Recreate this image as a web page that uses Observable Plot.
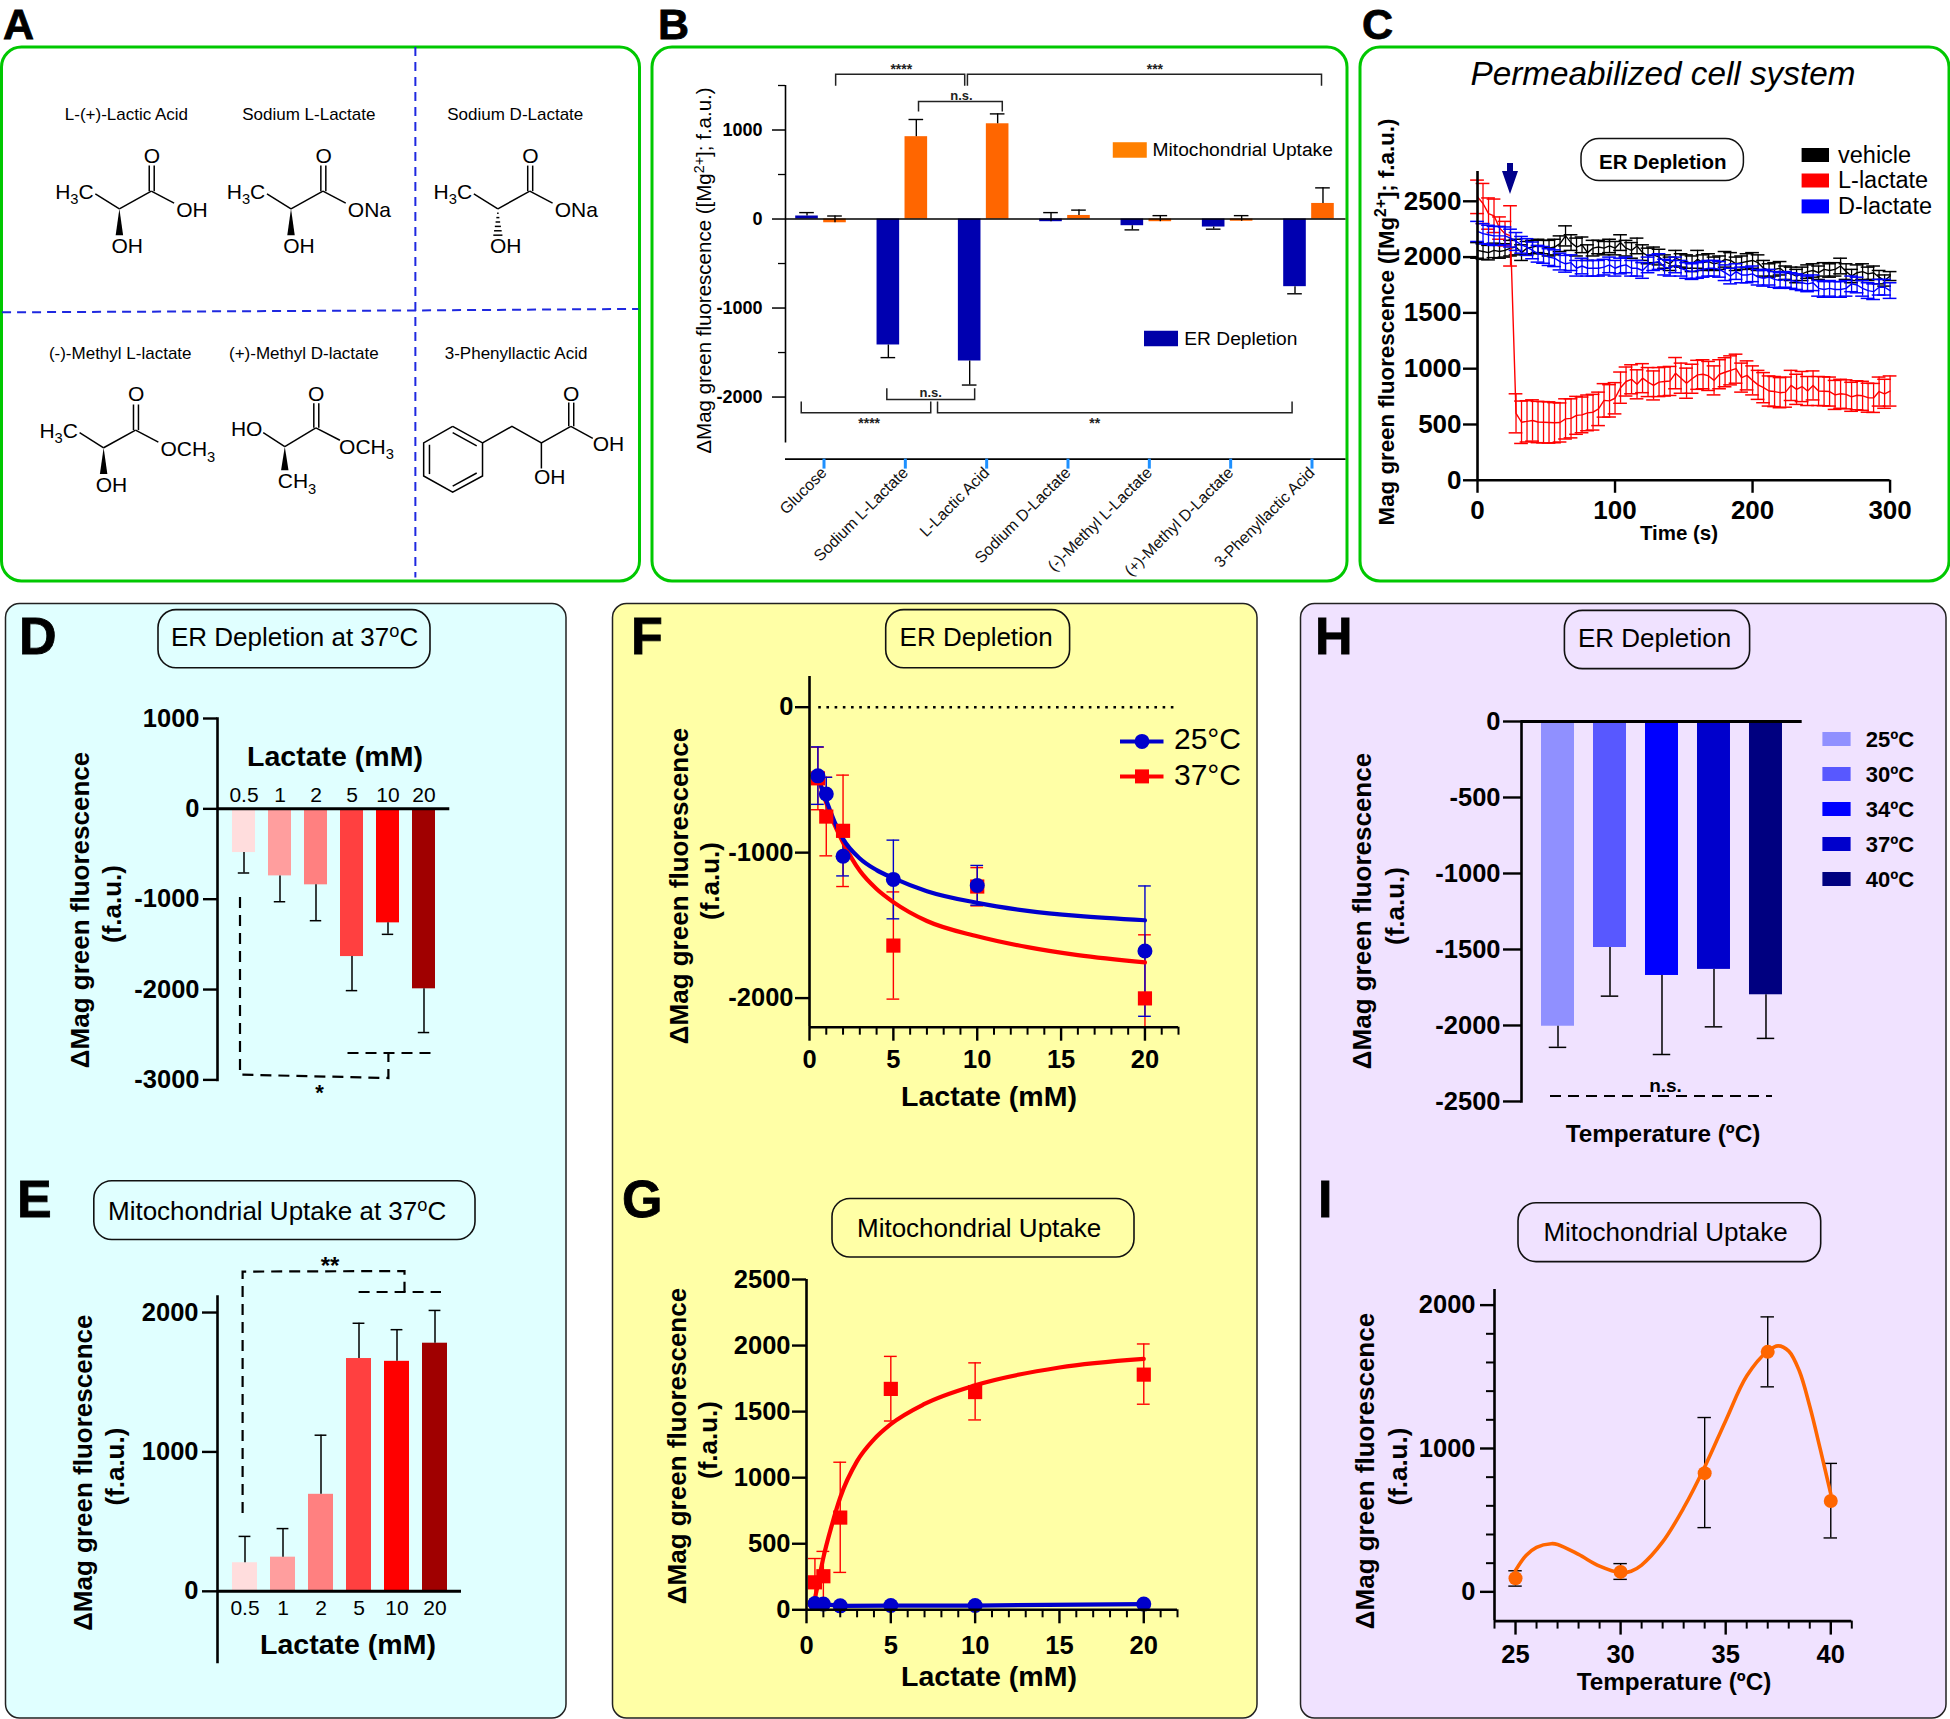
<!DOCTYPE html>
<html><head><meta charset="utf-8">
<style>
html,body{margin:0;padding:0;background:#fff;overflow:hidden}
#page{position:relative;width:1950px;height:1719px;overflow:hidden;font-family:"Liberation Sans",Arial,sans-serif}
#page svg{font-family:"Liberation Sans",Arial,sans-serif}
</style>
<script src="https://cdn.jsdelivr.net/npm/d3@7"></script>
<script src="https://cdn.jsdelivr.net/npm/@observablehq/plot@0.6"></script>
</head><body><div id="page"></div>
<script>
// ---------- data ----------
const bCompounds = ["Glucose","Sodium L-Lactate","L-Lactic Acid","Sodium D-Lactate","(-)-Methyl L-Lactate","(+)-Methyl D-Lactate","3-Phenyllactic Acid"];
const bER      = [34,-1415,-1595,-30,-75,-90,-760];
const bERErr   = [72,-1557,-1865,72,-122,-114,-840];
const bMito    = [-42,925,1070,40,-30,-25,175];
const bMitoErr = [34,1118,1181,100,38,38,350];

const cTime = d3.range(0,301,4);
const cVehicle = [2060,2050,2040,2060,2050,2060,2080,2090,2040,2080,2090,2100,2090,2080,2090,2120,2190,2130,2090,2110,2040,2080,2090,2080,2100,2080,2130,2080,2060,2100,2040,2010,2020,2000,1960,1940,1990,1970,1960,1940,1980,1950,1960,1940,1950,1980,1970,1940,1950,1960,1970,1950,1900,1880,1890,1900,1860,1850,1830,1850,1870,1880,1860,1890,1880,1890,1920,1870,1830,1860,1870,1850,1860,1820,1790,1830];
const cVehicleErr = [70,70,65,65,60,60,70,70,70,60,60,60,60,70,70,70,90,70,80,70,70,70,60,60,60,60,70,70,70,70,70,70,70,70,60,60,70,60,60,70,80,70,70,60,60,70,70,60,60,70,70,70,70,60,60,60,60,60,60,60,60,60,60,60,60,60,70,70,60,70,70,60,60,60,50,40];
const cLactateL = [2540,2480,2390,2370,2260,2210,2190,600,520,528,536,522,520,518,516,518,550,555,582,586,604,610,640,716,712,735,830,885,905,860,915,880,850,880,885,890,960,915,870,910,945,950,935,895,950,968,985,1000,920,940,895,855,830,800,795,785,790,850,815,840,800,850,800,798,795,765,775,770,748,762,757,740,738,795,775,800];
const cLactateLErr = [150,180,140,150,100,110,270,175,190,185,185,185,185,185,180,175,180,175,170,160,160,160,150,150,145,140,140,130,130,130,130,130,130,130,130,130,140,135,135,130,130,130,130,130,130,130,130,130,130,130,130,130,135,135,135,135,135,135,135,135,130,130,130,130,130,130,130,130,130,130,130,130,130,130,130,135];
const cLactateD = [2230,2210,2200,2190,2190,2190,2170,2140,2110,2090,2060,2030,2020,2000,1990,1960,1940,1950,1900,1920,1900,1900,1900,1910,1930,1900,1920,1930,1900,1900,1880,1930,1950,1960,1910,1900,1930,1900,1880,1870,1880,1890,1900,1900,1890,1860,1830,1870,1840,1840,1850,1820,1810,1820,1800,1790,1800,1790,1780,1770,1760,1770,1720,1710,1720,1710,1710,1720,1760,1750,1720,1700,1690,1730,1730,1700];
const cLactateDErr = [90,90,85,85,85,80,80,80,75,75,75,75,75,75,75,75,75,70,70,70,70,70,70,70,70,70,70,70,70,70,70,70,70,70,70,70,70,70,70,70,70,70,70,70,70,70,70,70,70,70,70,70,70,70,70,70,70,70,70,70,70,70,70,70,70,70,70,70,70,70,70,70,70,70,70,70];

const lactateCats = ["0.5","1","2","5","10","20"];
const redShades   = ["#FFDDDD","#FF9E9E","#FF8080","#FF4040","#FF0000","#A00000"];
const dValues = [-484,-742,-841,-1635,-1262,-1992];
const dErrEnd = [-710,-1028,-1238,-2012,-1389,-2476];
const eValues = [205,245,696,1670,1650,1780];
const eErrEnd = [394,450,1120,1923,1877,2015];

const lactateMM = [0.5,1,2,5,10,20];
const f25    = [-472,-597,-1025,-1184,-1226,-1676];
const f25Top = [-273,-482,-889,-914,-1088,-1229];
const f25Bot = [-668,-712,-1160,-1455,-1361,-2125];
const f37    = [-489,-752,-850,-1639,-1233,-2002];
const f37Top = [-275,-482,-467,-1270,-1103,-1565];
const f37Bot = [-705,-1022,-1233,-2007,-1366,-2200];
const fCurveX  = [0.5,1,1.5,2,3,4,5,7,10,13,16,20];
const fCurve25 = [-480,-640,-790,-905,-1040,-1120,-1175,-1265,-1345,-1400,-1435,-1465];
const fCurve37 = [-470,-660,-810,-930,-1125,-1250,-1340,-1470,-1575,-1650,-1705,-1755];

const g37    = [208,254,698,1672,1648,1780];
const g37Top = [388,442,1117,1918,1869,2012];
const g37Bot = [28,60,283,1429,1437,1556];
const g25    = [48,43,30,32,32,43];
const gCurveX  = [0.45,0.7,1,1.5,2,3,4,5,7,10,15,20];
const gCurve37 = [54,210,395,640,850,1125,1290,1405,1558,1699,1834,1899];

const tempLabels = ["25ºC","30ºC","34ºC","37ºC","40ºC"];
const blueShades = ["#9090FF","#5858FF","#0000FF","#0000CC","#000080"];
const hValues = [-2005,-1487,-1671,-1631,-1798];
const hErrEnd = [-2144,-1807,-2191,-2009,-2085];

const temps = [25,30,34,37,40];
const iValues = [95,139,828,1674,634];
const iTop = [147,197,1216,1918,896];
const iBot = [40,87,448,1430,376];
const iCurveX = [25,25.5,26,26.7,27,28,29,30,30.5,31,32,33,34,35,36,37,37.5,38,38.5,39,39.5,40];
const iCurveY = [150,254,311,336,331,261,179,134,144,187,348,585,871,1194,1505,1679,1716,1679,1542,1294,995,684];

// ---------- helpers ----------
const page = d3.select("#page");
const INK = "#000";
const bg = page.append("svg").attr("width",1950).attr("height",1719).style("position","absolute").style("left",0).style("top",0);

function rrect(x1,y1,x2,y2,r,fill,stroke,sw){
  bg.append("rect").attr("x",x1).attr("y",y1).attr("width",x2-x1).attr("height",y2-y1).attr("rx",r)
    .attr("fill",fill).attr("stroke",stroke).attr("stroke-width",sw);
}
function txt(x,y,parts,o={}){
  const {size=20,weight="normal",style="normal",anchor="start",rotate=null,fill=INK}=o;
  const t=bg.append("text").attr("x",x).attr("y",y).attr("font-size",size).attr("font-weight",weight)
    .attr("font-style",style).attr("text-anchor",anchor).attr("fill",fill);
  if(rotate!==null) t.attr("transform",`rotate(${rotate} ${x} ${y})`);
  let pending=0;
  (Array.isArray(parts)?parts:[parts]).forEach(p=>{
    const s=t.append("tspan");
    if(typeof p==="string"){ s.text(p); if(pending) s.attr("dy",pending*size); pending=0; }
    else{ s.attr("font-size",size*p.scale).attr("dy",(p.dy+pending)*size).text(p.t); pending=-p.dy; }
  });
  return t;
}
const sup = s=>({t:s,dy:-0.36,scale:0.7});
const sub = s=>({t:s,dy:0.26,scale:0.7});
function poly(pts,o={}){
  const {stroke=INK,sw=1.5,dash=null}=o;
  const p=bg.append("path").attr("d","M"+pts.map(q=>q.join(",")).join("L")).attr("fill","none").attr("stroke",stroke).attr("stroke-width",sw);
  if(dash) p.attr("stroke-dasharray",dash);
}
function pill(x1,y1,x2,y2,parts,x,y,o={}){
  rrect(x1,y1,x2,y2,18,"none","#111",1.6);
  txt(x,y,parts,{size:26,...o});
}
function chart(inner,opts){
  const [l,t,r,b]=inner;
  const svg=Plot.plot({width:r-l,height:b-t,marginLeft:0,marginRight:0,marginTop:0,marginBottom:0,
    style:{position:"absolute",left:l+"px",top:t+"px",overflow:"visible",background:"transparent",fontFamily:'"Liberation Sans",Arial,sans-serif',color:"#000"},
    ...opts});
  page.node().appendChild(svg);
}
const fmt = d=>String(d);
const yAx = (ticks,o={}) => Plot.axisY({ticks,tickFormat:fmt,label:null,fontSize:25.5,fontWeight:"bold",tickSize:14,tickPadding:4,strokeWidth:2.4,...o});
const yMinor = (ticks,o={}) => Plot.axisY({ticks,label:null,fill:"none",tickSize:8,strokeWidth:2,...o});
const xAx = (ticks,o={}) => Plot.axisX({ticks,tickFormat:fmt,label:null,fontSize:25.5,fontWeight:"bold",tickSize:14,tickPadding:9,strokeWidth:2.4,...o});
const xMinor = (ticks,o={}) => Plot.axisX({ticks,label:null,fill:"none",tickSize:8,strokeWidth:2,...o});
const YT = "ΔMag green fluorescence", FAU = "(f.a.u.)";
function yTitle(x1,x2,yc1,yc2){
  txt(x1,yc1,YT,{size:26,weight:"bold",anchor:"middle",rotate:-90});
  txt(x2,yc2,FAU,{size:26,weight:"bold",anchor:"middle",rotate:-90});
}

// ---------- panel backgrounds ----------
rrect(1.5,47,639.5,581,20,"#fff","#00C800",3);
rrect(652,47,1347,581,20,"#fff","#00C800",3);
rrect(1360,47,1949,581,20,"#fff","#00C800",3);
rrect(5.5,603.5,566,1718,14,"#E0FFFF","#222",1.5);
rrect(612.5,603.5,1257,1718,14,"#FFFFA6","#222",1.5);
rrect(1300.5,603.5,1946,1718,14,"#F0E2FF","#222",1.5);

[["A",3,39.2,43],["B",658,39.2,43],["C",1362,39.2,43],["D",19,653.6,52],["E",17,1217,52],
 ["F",631,653.6,52],["G",622,1217,52],["H",1315,653.6,52],["I",1318,1217,52]]
 .forEach(([s,x,y,size])=>txt(x,y,s,{size,weight:"bold"}).attr("stroke",INK).attr("stroke-width",0.8));

// ---------- Panel A: structures ----------
const ax=x=>x*650/1568, ay=y=>y*590/1568;
const P=(x,y)=>[ax(x),ay(y)];
poly([P(1002,125),P(1002,1535)],{stroke:"#1E28E0",sw:2,dash:"9 6"});
poly([P(5,830),P(1002,825),P(1540,821)],{stroke:"#1E28E0",sw:2,dash:"9 6"});
[["L-(+)-Lactic Acid",305,318],["Sodium L-Lactate",745,318],["Sodium D-Lactate",1243,318],
 ["(-)-Methyl L-lactate",290,955],["(+)-Methyl D-lactate",733,955],["3-Phenyllactic Acid",1245,955]]
 .forEach(([s,x,y])=>txt(ax(x),ay(y),s,{size:17,anchor:"middle"}));
const atom=(x,y,parts)=>txt(ax(x),ay(y),parts,{size:21});
const bond=(a,b,c,d)=>poly([P(a,b),P(c,d)],{sw:1.5});
function wedge(x1,y1,x2,y2,w){
  bg.append("path").attr("fill",INK).attr("d","M"+P(x1,y1).join(",")+"L"+P(x2-w,y2).join(",")+"L"+P(x2+w,y2).join(",")+"Z");
}
function hash(x,y1,y2,w){
  for(let i=1;i<=6;i++){const yy=y1+(y2-y1)*i/6,ww=w*i/6;bond(x-ww,yy,x+ww,yy);}
}
function lact(dx,dy,right,stereo){
  atom(133+dx,528+dy,["H",sub("3"),"C"]);
  bond(230+dx,515+dy,288+dx,555+dy); bond(288+dx,555+dy,365+dx,508+dy);
  bond(360+dx,508+dy,360+dx,440+dy); bond(372+dx,508+dy,372+dx,440+dy);
  bond(365+dx,508+dy,420+dx,540+dy);
  atom(347+dx,432+dy,"O"); atom(425+dx,577+dy,right); atom(269+dx,673+dy,"OH");
  if(stereo==="wedge") wedge(288+dx,555+dy,288+dx,625+dy,9); else hash(288+dx,555+dy,625+dy,11);
}
lact(0,0,"OH","wedge");
lact(414,0,"ONa","wedge");
lact(913,0,"ONa","hash");
lact(-38,635,["OCH",sub("3")],"wedge");
// (+)-Methyl D-lactate
atom(557,1158,"HO"); atom(743,1067,"O"); atom(818,1206,["OCH",sub("3")]); atom(670,1298,["CH",sub("3")]);
bond(635,1150,687,1187); bond(687,1187,762,1137); bond(757,1137,757,1072); bond(769,1137,769,1072); bond(762,1137,820,1170);
wedge(687,1187,687,1250,9);
// 3-Phenyllactic acid
poly([P(1092,1133),P(1164,1177),P(1164,1265),P(1092,1308),P(1022,1265),P(1022,1177),P(1092,1133)]);
bond(1092,1150,1150,1185); bond(1150,1257,1092,1292); bond(1036,1182,1036,1260);
poly([P(1164,1177),P(1235,1133),P(1306,1177),P(1377,1133)]);
bond(1372,1133,1372,1070); bond(1384,1133,1384,1070); bond(1377,1133,1430,1165); bond(1306,1177,1306,1245);
atom(1358,1065,"O"); atom(1430,1198,"OH"); atom(1288,1285,"OH");

// ---------- Panel B ----------
const bx=x=>650+x*710/1568, by=y=>y*590/1568;
const Q=(x,y)=>[bx(x),by(y)];
const BR=(pts,sw=1.5)=>poly(pts.map(p=>Q(...p)),{sw,stroke:"#222"});
BR([[410,228],[410,197],[695,197],[695,228]]);
BR([[701,228],[701,197],[1483,197],[1483,228]]);
BR([[593,296],[593,270],[778,270],[778,296]]);
BR([[523,1032],[523,1062],[717,1062],[717,1032]]);
BR([[334,1067],[334,1097],[620,1097],[620,1067]]);
BR([[635,1067],[635,1097],[1418,1097],[1418,1067]]);
[["****",555,196],["***",1115,196],["n.s.",688,265],["n.s.",620,1055],["****",484,1137],["**",982,1137]]
 .forEach(([s,x,y])=>txt(bx(x),by(y),s,{size:s==="n.s."?13:14,weight:"bold",anchor:"middle",fill:"#222"}));
bg.append("rect").attr("x",bx(1022)).attr("y",by(378)).attr("width",34).attr("height",15.5).attr("fill","#FF8000");
txt(bx(1110),by(415),"Mitochondrial Uptake",{size:19.2});
bg.append("rect").attr("x",bx(1091)).attr("y",by(879)).attr("width",34).attr("height",15.5).attr("fill","#0000A8");
txt(bx(1180),by(917),"ER Depletion",{size:19.2});
txt(711,270.5,[YT+" ([Mg",sup("2+"),"]; f.a.u.)"],{size:20.5,anchor:"middle",rotate:-90});

const bData = bCompounds.map((c,i)=>({i,c,er:bER[i],erE:bERErr[i],mi:bMito[i],miE:bMitoErr[i]}));
const H=0.139, OFF=0.172, CAP=0.09;
chart([784.5,84.7,1345,458.3],{
  x:{domain:[-0.4365,6.455],axis:null},
  y:{domain:[-2697,1500],axis:null},
  marks:[
    Plot.rect(bData,{x1:d=>d.i-OFF-H,x2:d=>d.i-OFF+H,y1:0,y2:"er",fill:"#0000B0"}),
    Plot.rect(bData,{x1:d=>d.i+OFF-H,x2:d=>d.i+OFF+H,y1:0,y2:"mi",fill:"#FF6600"}),
    Plot.ruleX(bData,{x:d=>d.i-OFF,y1:"er",y2:"erE",strokeWidth:1.4}),
    Plot.ruleY(bData,{y:"erE",x1:d=>d.i-OFF-CAP,x2:d=>d.i-OFF+CAP,strokeWidth:1.4}),
    Plot.ruleX(bData,{x:d=>d.i+OFF,y1:"mi",y2:"miE",strokeWidth:1.4}),
    Plot.ruleY(bData,{y:"miE",x1:d=>d.i+OFF-CAP,x2:d=>d.i+OFF+CAP,strokeWidth:1.4}),
    Plot.ruleY([0],{strokeWidth:1.6}),
    Plot.ruleY([-2697],{strokeWidth:1.6}),
    Plot.ruleX([-0.4365],{y1:1500,y2:-2515,strokeWidth:1.6}),
    yAx([-2000,-1000,0,1000],{fontSize:18,tickSize:13,tickPadding:10,strokeWidth:1.5}),
    yMinor([-1500,-500,500,1500],{tickSize:7,strokeWidth:1.3}),
    Plot.axisX({ticks:d3.range(7),tickFormat:i=>bCompounds[i],label:null,stroke:"#1E90FF",strokeWidth:3,tickSize:10,tickPadding:1,tickRotate:-45,fontSize:16,fill:"#111",dx:3})
  ]
});

// ---------- Panel C ----------
txt(1470.5,84.7,"Permeabilized cell system",{size:33.3,style:"italic"});
rrect(1581,138.5,1743.4,180.6,18,"none","#111",1.5);
txt(1599,169,"ER Depletion",{size:20.5,weight:"bold"});
[["vehicle","#000",148,162.6],["L-lactate","#FF0000",173.5,188],["D-lactate","#0000FF",199.4,213.8]].forEach(([s,c,y,b])=>{
  bg.append("rect").attr("x",1801.6).attr("y",y).attr("width",27.4).attr("height",14).attr("fill",c);
  txt(1838,b,s,{size:23.5});
});
txt(1394,322,["Mag green fluorescence ([Mg",sup("2+"),"]; f.a.u.)"],{size:22.3,weight:"bold",anchor:"middle",rotate:-90});
txt(1679,540,"Time (s)",{size:20.5,weight:"bold",anchor:"middle"});
bg.append("path").attr("d","M1507,163h6v8h5l-8,23l-8,-23h5z").attr("fill","#00008B");
const series = (ys,es)=>cTime.map((t,i)=>({t,v:ys[i],lo:ys[i]-es[i],hi:ys[i]+es[i]}));
const cMarks = (d,col)=>[
  Plot.ruleX(d,{x:"t",y1:"lo",y2:"hi",stroke:col,strokeWidth:1.3}),
  Plot.ruleY(d,{y:"hi",x1:e=>e.t-5,x2:e=>e.t+5,stroke:col,strokeWidth:1.5}),
  Plot.ruleY(d,{y:"lo",x1:e=>e.t-5,x2:e=>e.t+5,stroke:col,strokeWidth:1.5}),
  Plot.line(d,{x:"t",y:"v",stroke:col,strokeWidth:1.4})
];
chart([1477,171,1889.6,479.8],{
  x:{domain:[0,300],axis:null},
  y:{domain:[0,2767],axis:null},
  marks:[
    ...cMarks(series(cVehicle,cVehicleErr),"#000"),
    ...cMarks(series(cLactateL,cLactateLErr),"#FF0000"),
    ...cMarks(series(cLactateD,cLactateDErr),"#0000FF"),
    Plot.ruleX([0],{strokeWidth:2.6}),
    Plot.ruleY([0],{strokeWidth:2.6}),
    yAx([0,500,1000,1500,2000,2500],{fontSize:26,tickSize:14,tickPadding:2}),
    xAx([0,100,200,300],{fontSize:26,tickSize:13,tickPadding:7})
  ]
});

// ---------- Panels D, E ----------
pill(158,609.6,430,667.8,["ER Depletion at 37",sup("o"),"C"],171,646.4);
pill(93.8,1180.7,475,1239.5,["Mitochondrial Uptake at 37",sup("o"),"C"],108,1220);
yTitle(88.8,120.5,910,904);
yTitle(92,124,1472.7,1466.6);
txt(335,765.7,"Lactate (mM)",{size:28.5,weight:"bold",anchor:"middle"});
txt(348,1653.8,"Lactate (mM)",{size:28.5,weight:"bold",anchor:"middle"});
const DASH={sw:2.2,dash:"11 7"};
poly([[240,897],[240,1074.6],[388.4,1078],[388.4,1053]],DASH);
poly([[347.5,1053],[430.5,1053]],DASH);
txt(319.6,1100,"*",{size:22,weight:"bold",anchor:"middle"});
poly([[242.6,1513],[242.6,1271.6],[404.5,1271],[404.5,1292]],DASH);
poly([[358.6,1292],[441,1292]],DASH);
txt(330,1274,"**",{size:24,weight:"bold",anchor:"middle"});

function barPanel(inner,cats,colors,vals,ends,yDomain,ticks,padding,capPx,extra,yOpts={}){
  const data=cats.map((c,i)=>({c,v:vals[i],e:ends[i]}));
  const w=inner[2]-inner[0], step=w/(cats.length+padding), inset=(step*(1-padding))/2-capPx;
  chart(inner,{
    x:{domain:cats,axis:null,padding},
    y:{domain:yDomain,axis:null},
    color:{domain:cats,range:colors},
    marks:[
      Plot.barY(data,{x:"c",y:"v",fill:"c"}),
      Plot.ruleX(data,{x:"c",y1:"v",y2:"e",strokeWidth:1.5}),
      Plot.tickY(data,{x:"c",y:"e",strokeWidth:1.5,insetLeft:inset,insetRight:inset}),
      Plot.ruleY([0],{strokeWidth:3}),
      Plot.frame({anchor:"left",strokeWidth:2.6}),
      yAx(ticks,yOpts),
      ...extra
    ]
  });
}
barPanel([217.4,717.8,449.7,1079.2],lactateCats,redShades,dValues,dErrEnd,[-3000,1000],[-3000,-2000,-1000,0,1000],0.355,6,
  [Plot.text(lactateCats,{x:d=>d,y:()=>0,text:d=>d,dy:-14,fontSize:21})]);
barPanel([217,1295.5,461,1661],lactateCats,redShades,eValues,eErrEnd,[-507,2115],[0,1000,2000],0.345,6,
  [Plot.text(lactateCats,{x:d=>d,y:()=>0,text:d=>d,dy:17,fontSize:21})],{tickSize:15});

// ---------- Panels F, G ----------
pill(885.7,609.6,1069.6,667.8,"ER Depletion",899.6,646.4);
pill(832,1198.5,1134,1257,"Mitochondrial Uptake",857,1236.6);
yTitle(688,718.6,886,881);
yTitle(686,717,1446,1440);
txt(989,1106,"Lactate (mM)",{size:28.5,weight:"bold",anchor:"middle"});
txt(989,1686,"Lactate (mM)",{size:28.5,weight:"bold",anchor:"middle"});
poly([[1120,741.4],[1163.5,741.4]],{stroke:"#0000CC",sw:4});
bg.append("circle").attr("cx",1142).attr("cy",741.4).attr("r",7.5).attr("fill","#0000CC");
txt(1174,749,"25°C",{size:30});
poly([[1120,776.4],[1163.5,776.4]],{stroke:"#FF0000",sw:4});
bg.append("rect").attr("x",1135).attr("y",769.4).attr("width",14).attr("height",14).attr("fill","#FF0000");
txt(1174,784.6,"37°C",{size:30});

const pts=(ys,tops,bots,xs=lactateMM)=>xs.map((x,i)=>({x,y:ys[i],t:tops?tops[i]:null,b:bots?bots[i]:null}));
const curve=(xs,ys)=>xs.map((x,i)=>({x,y:ys[i]}));
const errMarks=(d,col,cap=0.38)=>[
  Plot.ruleX(d,{x:"x",y1:"b",y2:"t",stroke:col,strokeWidth:1.4}),
  Plot.ruleY(d,{y:"t",x1:e=>e.x-cap,x2:e=>e.x+cap,stroke:col,strokeWidth:1.4}),
  Plot.ruleY(d,{y:"b",x1:e=>e.x-cap,x2:e=>e.x+cap,stroke:col,strokeWidth:1.4})
];
const f25d=pts(f25,f25Top,f25Bot), f37d=pts(f37,f37Top,f37Bot);
const majorX=[0,5,10,15,20], minorX=d3.range(0,23).filter(v=>v%5);
chart([809,675.7,1178,1026.4],{
  x:{domain:[0,22],axis:null},
  y:{domain:[-2200,211],axis:null},
  marks:[
    Plot.ruleY([0],{x1:0.55,x2:22,strokeWidth:2.6,strokeDasharray:"2.6 5.6"}),
    ...errMarks(f37d,"#FF0000"),
    ...errMarks(f25d,"#0000CC"),
    Plot.line(curve(fCurveX,fCurve37),{x:"x",y:"y",stroke:"#FF0000",strokeWidth:4.2,curve:"monotone-x"}),
    Plot.line(curve(fCurveX,fCurve25),{x:"x",y:"y",stroke:"#0000CC",strokeWidth:4.2,curve:"monotone-x"}),
    Plot.dot(f37d,{x:"x",y:"y",symbol:"square",r:8,fill:"#FF0000"}),
    Plot.dot(f25d,{x:"x",y:"y",symbol:"circle",r:7.5,fill:"#0000CC"}),
    Plot.ruleX([0],{strokeWidth:2.6}),
    Plot.ruleY([-2200],{strokeWidth:2.6}),
    yAx([-2000,-1000,0],{tickPadding:2}),
    xAx(majorX),
    xMinor(minorX)
  ]
});
const g37d=pts(g37,g37Top,g37Bot), g25d=pts(g25);
chart([806,1278.7,1177,1609],{
  x:{domain:[0,22],axis:null},
  y:{domain:[0,2500],axis:null},
  marks:[
    ...errMarks(g37d,"#FF0000"),
    Plot.line(curve(gCurveX,gCurve37),{x:"x",y:"y",stroke:"#FF0000",strokeWidth:4.2,curve:"monotone-x"}),
    Plot.dot(g37d,{x:"x",y:"y",symbol:"square",r:8,fill:"#FF0000"}),
    Plot.line(g25d,{x:"x",y:"y",stroke:"#0000CC",strokeWidth:4.2}),
    Plot.dot(g25d,{x:"x",y:"y",symbol:"circle",r:7.5,fill:"#0000CC"}),
    Plot.ruleX([0],{strokeWidth:2.6}),
    Plot.ruleY([0],{strokeWidth:2.6}),
    yAx([0,500,1000,1500,2000,2500],{tickPadding:2}),
    xAx(majorX,{tickPadding:12}),
    xMinor(minorX)
  ]
});

// ---------- Panels H, I ----------
pill(1564.4,610.4,1749.6,668.6,"ER Depletion",1578,647);
pill(1518,1202.8,1820.7,1261.6,"Mitochondrial Uptake",1543.4,1241);
yTitle(1370.8,1403.6,911,906);
yTitle(1374,1407,1471,1466.6);
txt(1663,1141.7,"Temperature (ºC)",{size:24.3,weight:"bold",anchor:"middle"});
txt(1674,1690,"Temperature (ºC)",{size:24.3,weight:"bold",anchor:"middle"});
tempLabels.forEach((s,i)=>{
  bg.append("rect").attr("x",1822.4).attr("y",732+35*i).attr("width",28.2).attr("height",14).attr("fill",blueShades[i]);
  txt(1865.8,747+35*i,s,{size:22,weight:"bold"});
});
poly([[1550,1096],[1772,1096]],DASH);
txt(1665.5,1091.7,"n.s.",{size:19,weight:"bold",anchor:"middle"});
barPanel([1520.7,720.7,1801.4,1100.7],tempLabels,blueShades,hValues,hErrEnd,[-2500,0],[-2500,-2000,-1500,-1000,-500,0],0.36,9,
  [],{tickSize:18,tickPadding:3});

const iData=pts(iValues,iTop,iBot,temps);
chart([1493.7,1289,1851,1620.6],{
  x:{domain:[24,41],axis:null},
  y:{domain:[-204,2109],axis:null},
  marks:[
    ...errMarks(iData,"#000",0.32),
    Plot.line(curve(iCurveX,iCurveY),{x:"x",y:"y",stroke:"#FF6600",strokeWidth:3.6,curve:"catmull-rom"}),
    Plot.dot(iData,{x:"x",y:"y",symbol:"circle",r:7,fill:"#FF6600"}),
    Plot.ruleX([24],{strokeWidth:2.6}),
    Plot.ruleY([-204],{strokeWidth:2.6}),
    yAx([0,1000,2000],{tickPadding:5}),
    yMinor([200,400,600,800,1200,1400,1600,1800]),
    xAx([25,30,35,40],{tickPadding:10}),
    xMinor(d3.range(24,42).filter(v=>v%5))
  ]
});
</script></body></html>
